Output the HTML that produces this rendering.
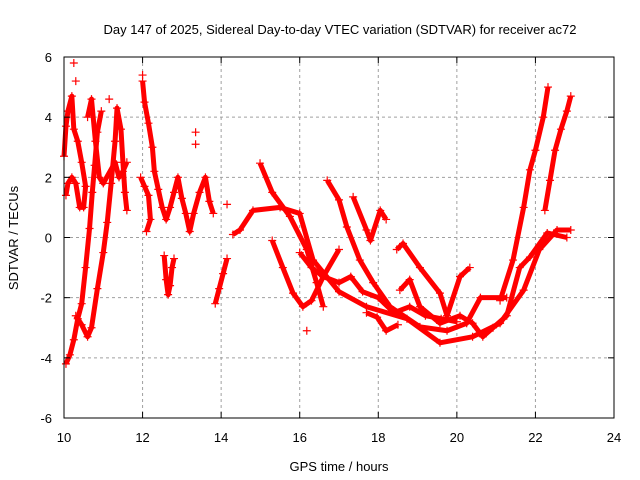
<!DOCTYPE html>
<html><head><meta charset="utf-8"><style>
body{margin:0;background:#fff}
svg{display:block;font-family:"Liberation Sans",sans-serif;font-size:13px}
</style></head><body>
<svg id="chart" width="640" height="480">
<rect width="640" height="480" fill="#fff"/>
<g id="grid"></g><g id="marks"></g><g id="axes"></g>
<text x="340" y="34" text-anchor="middle">Day 147 of 2025, Sidereal Day-to-day VTEC variation (SDTVAR) for receiver ac72</text>
<text x="339" y="471" text-anchor="middle">GPS time / hours</text>
<text transform="translate(18,238) rotate(-90)" text-anchor="middle">SDTVAR / TECUs</text>
</svg>
<script>
const xTicks=[10,12,14,16,18,20,22,24];
const yTicks=[-6,-4,-2,0,2,4,6];
const trackA=[[10.05,-4.2],[10.15,-3.9],[10.25,-3.4],[10.35,-2.7],[10.45,-2.2],[10.55,-1.0],[10.65,0.3],[10.72,1.5],[10.78,2.4],[10.85,3.5],[10.95,4.2]];
const trackB=[[10.3,-2.6],[10.45,-2.9],[10.6,-3.3],[10.7,-3.0],[10.85,-1.7],[11.0,-0.5],[11.1,0.5],[11.2,1.8],[11.3,3.2],[11.35,4.3],[11.45,3.6],[11.5,2.5],[11.55,1.5],[11.6,0.9]];
const trackC=[[10.0,2.7],[10.05,3.7],[10.1,4.2],[10.2,4.7],[10.25,3.6],[10.35,3.2],[10.45,2.5],[10.55,1.7],[10.5,1.0],[10.4,1.0],[10.3,1.8],[10.2,2.0],[10.1,1.8],[10.05,1.4]];
const trackD=[[10.6,4.0],[10.7,4.6],[10.8,3.2],[10.9,2.0],[11.0,1.8],[11.3,2.5],[11.4,2.0],[11.5,2.2],[11.6,2.5]];
const trackE=[[12.0,5.2],[12.05,4.5],[12.15,3.8],[12.25,3.0],[12.3,2.2],[12.4,1.6],[12.5,1.0],[12.6,0.6],[12.7,1.0],[12.8,1.5],[12.9,2.0],[13.0,1.3],[13.1,0.8],[13.2,0.2],[13.3,0.8],[13.45,1.5],[13.6,2.0],[13.7,1.2],[13.8,0.8]];
const trackF=[[11.95,2.0],[12.05,1.7],[12.15,1.4],[12.2,0.6],[12.1,0.2]];
const trackG=[[12.55,-0.6],[12.6,-1.4],[12.65,-1.9],[12.7,-1.6],[12.75,-1.0],[12.8,-0.7]];
const trackH=[[13.85,-2.2],[13.95,-1.7],[14.05,-1.2],[14.15,-0.7]];
const trackI=[[14.3,0.1],[14.48,0.25],[14.81,0.9],[15.5,1.0],[16.0,0.8],[16.34,-0.75],[17.0,-1.8],[17.7,-2.3],[18.73,-2.7],[19.57,-3.5],[20.4,-3.3],[21.1,-2.85],[21.7,-1.75],[22.1,-0.4],[22.55,0.25],[22.9,0.25]];
const trackJ=[[14.99,2.47],[15.3,1.5],[15.75,0.7],[16.18,-0.4],[16.43,-1.5],[16.6,-2.3]];
const trackK=[[15.3,-0.1],[15.57,-1.0],[15.83,-1.85],[16.08,-2.3],[16.3,-2.1],[16.6,-1.3],[17.0,-0.4]];
const trackL=[[16.7,1.9],[17.0,1.25],[17.2,0.35],[17.53,-0.75],[17.87,-1.5],[18.3,-2.3],[19.06,-2.97],[19.75,-3.1],[20.25,-2.85],[20.6,-2.0],[21.27,-2.0]];
const trackM=[[17.36,1.35],[17.7,0.25],[17.8,-0.1],[18.05,0.9],[18.2,0.6]];
const trackN=[[18.47,-0.4],[18.63,-0.2],[19.06,-1.0],[19.57,-1.85],[19.75,-2.6],[20.08,-1.3],[20.33,-1.0]];
const trackO=[[18.55,-1.75],[18.8,-1.4],[19.06,-2.3],[19.57,-2.85],[20.08,-2.6],[20.4,-2.85],[20.66,-3.3],[20.92,-3.0],[21.27,-2.6],[21.6,-1.0],[21.86,-0.65],[22.3,0.15],[22.8,0.0]];
const trackP=[[21.1,-2.1],[21.43,-0.75],[21.7,1.0],[21.86,2.25],[22.0,2.9],[22.2,4.0],[22.32,5.0]];
const trackQ=[[22.24,0.9],[22.37,1.9],[22.5,2.9],[22.65,3.6],[22.8,4.2],[22.9,4.7]];
const trackR=[[16.0,-0.5],[16.3,-1.0],[16.6,-1.3],[17.0,-1.5],[17.3,-1.3],[17.6,-1.8],[18.0,-2.0],[18.4,-2.5],[18.8,-2.3],[19.2,-2.6],[19.6,-2.7],[20.0,-2.8]];
const trackS=[[17.7,-2.5],[17.97,-2.65],[18.2,-3.1],[18.5,-2.9]];
const outliers=[[10.25,5.8],[10.3,5.2],[13.35,3.5],[13.35,3.1],[16.18,-3.1],[12.0,5.4],[11.15,4.6],[14.15,1.1]];
const tracks=[trackA,trackB,trackC,trackD,trackE,trackF,trackG,trackH,trackI,trackJ,trackK,trackL,trackM,trackN,trackO,trackP,trackQ,trackR,trackS];

const X0=64,X1=614,Y0=418,Y1=57;
const xs=t=>X0+(t-10)/14*(X1-X0);
const ys=v=>Y0-(v+6)/12*(Y0-Y1);
const NS="http://www.w3.org/2000/svg";
function mk(tag,attrs,parent){const e=document.createElementNS(NS,tag);for(const k in attrs)e.setAttribute(k,attrs[k]);parent.appendChild(e);return e;}
const grid=document.getElementById('grid'),marks=document.getElementById('marks'),axes=document.getElementById('axes');
xTicks.forEach(t=>{
  if(t>10&&t<24){const l=mk('line',{x1:xs(t),x2:xs(t),y1:Y1,y2:Y0,stroke:'#a0a0a0','stroke-dasharray':'3,3'},grid);
  
  }
  const tx=mk('text',{x:xs(t),y:442,'text-anchor':'middle'},axes);tx.textContent=t;
  
  
  mk('line',{x1:xs(t),x2:xs(t),y1:Y0,y2:Y0-6,stroke:'#000'},axes);
  mk('line',{x1:xs(t),x2:xs(t),y1:Y1,y2:Y1+6,stroke:'#000'},axes);
});
yTicks.forEach(v=>{
  if(v>-6&&v<6){const l=mk('line',{x1:X0,x2:X1,y1:ys(v),y2:ys(v),stroke:'#a0a0a0','stroke-dasharray':'3,3'},grid);
  
  }
  const tx=mk('text',{x:52,y:ys(v)+5,'text-anchor':'end'},axes);tx.textContent=v;
  
  
  mk('line',{x1:X0,x2:X0+6,y1:ys(v),y2:ys(v),stroke:'#000'},axes);
  mk('line',{x1:X1,x2:X1-6,y1:ys(v),y2:ys(v),stroke:'#000'},axes);
});
const fr=mk('rect',{x:X0,y:Y1,width:X1-X0,height:Y0-Y1,fill:'none',stroke:'#000'},axes);


function plus(p,par){const x=xs(p[0]),y=ys(p[1]);
  const g=mk('path',{d:`M${x-4},${y}H${x+4}M${x},${y-4}V${y+4}`,stroke:'#f00','stroke-width':1.2},par);
  
  }
tracks.forEach(tr=>{
  const pl=mk('polyline',{points:tr.map(p=>xs(p[0])+','+ys(p[1])).join(' '),fill:'none',stroke:'#f00','stroke-width':5,'stroke-linejoin':'round'},marks);
  
  
  tr.forEach(p=>plus(p,marks));
});
outliers.forEach(p=>plus(p,marks));
</script>
</body></html>
